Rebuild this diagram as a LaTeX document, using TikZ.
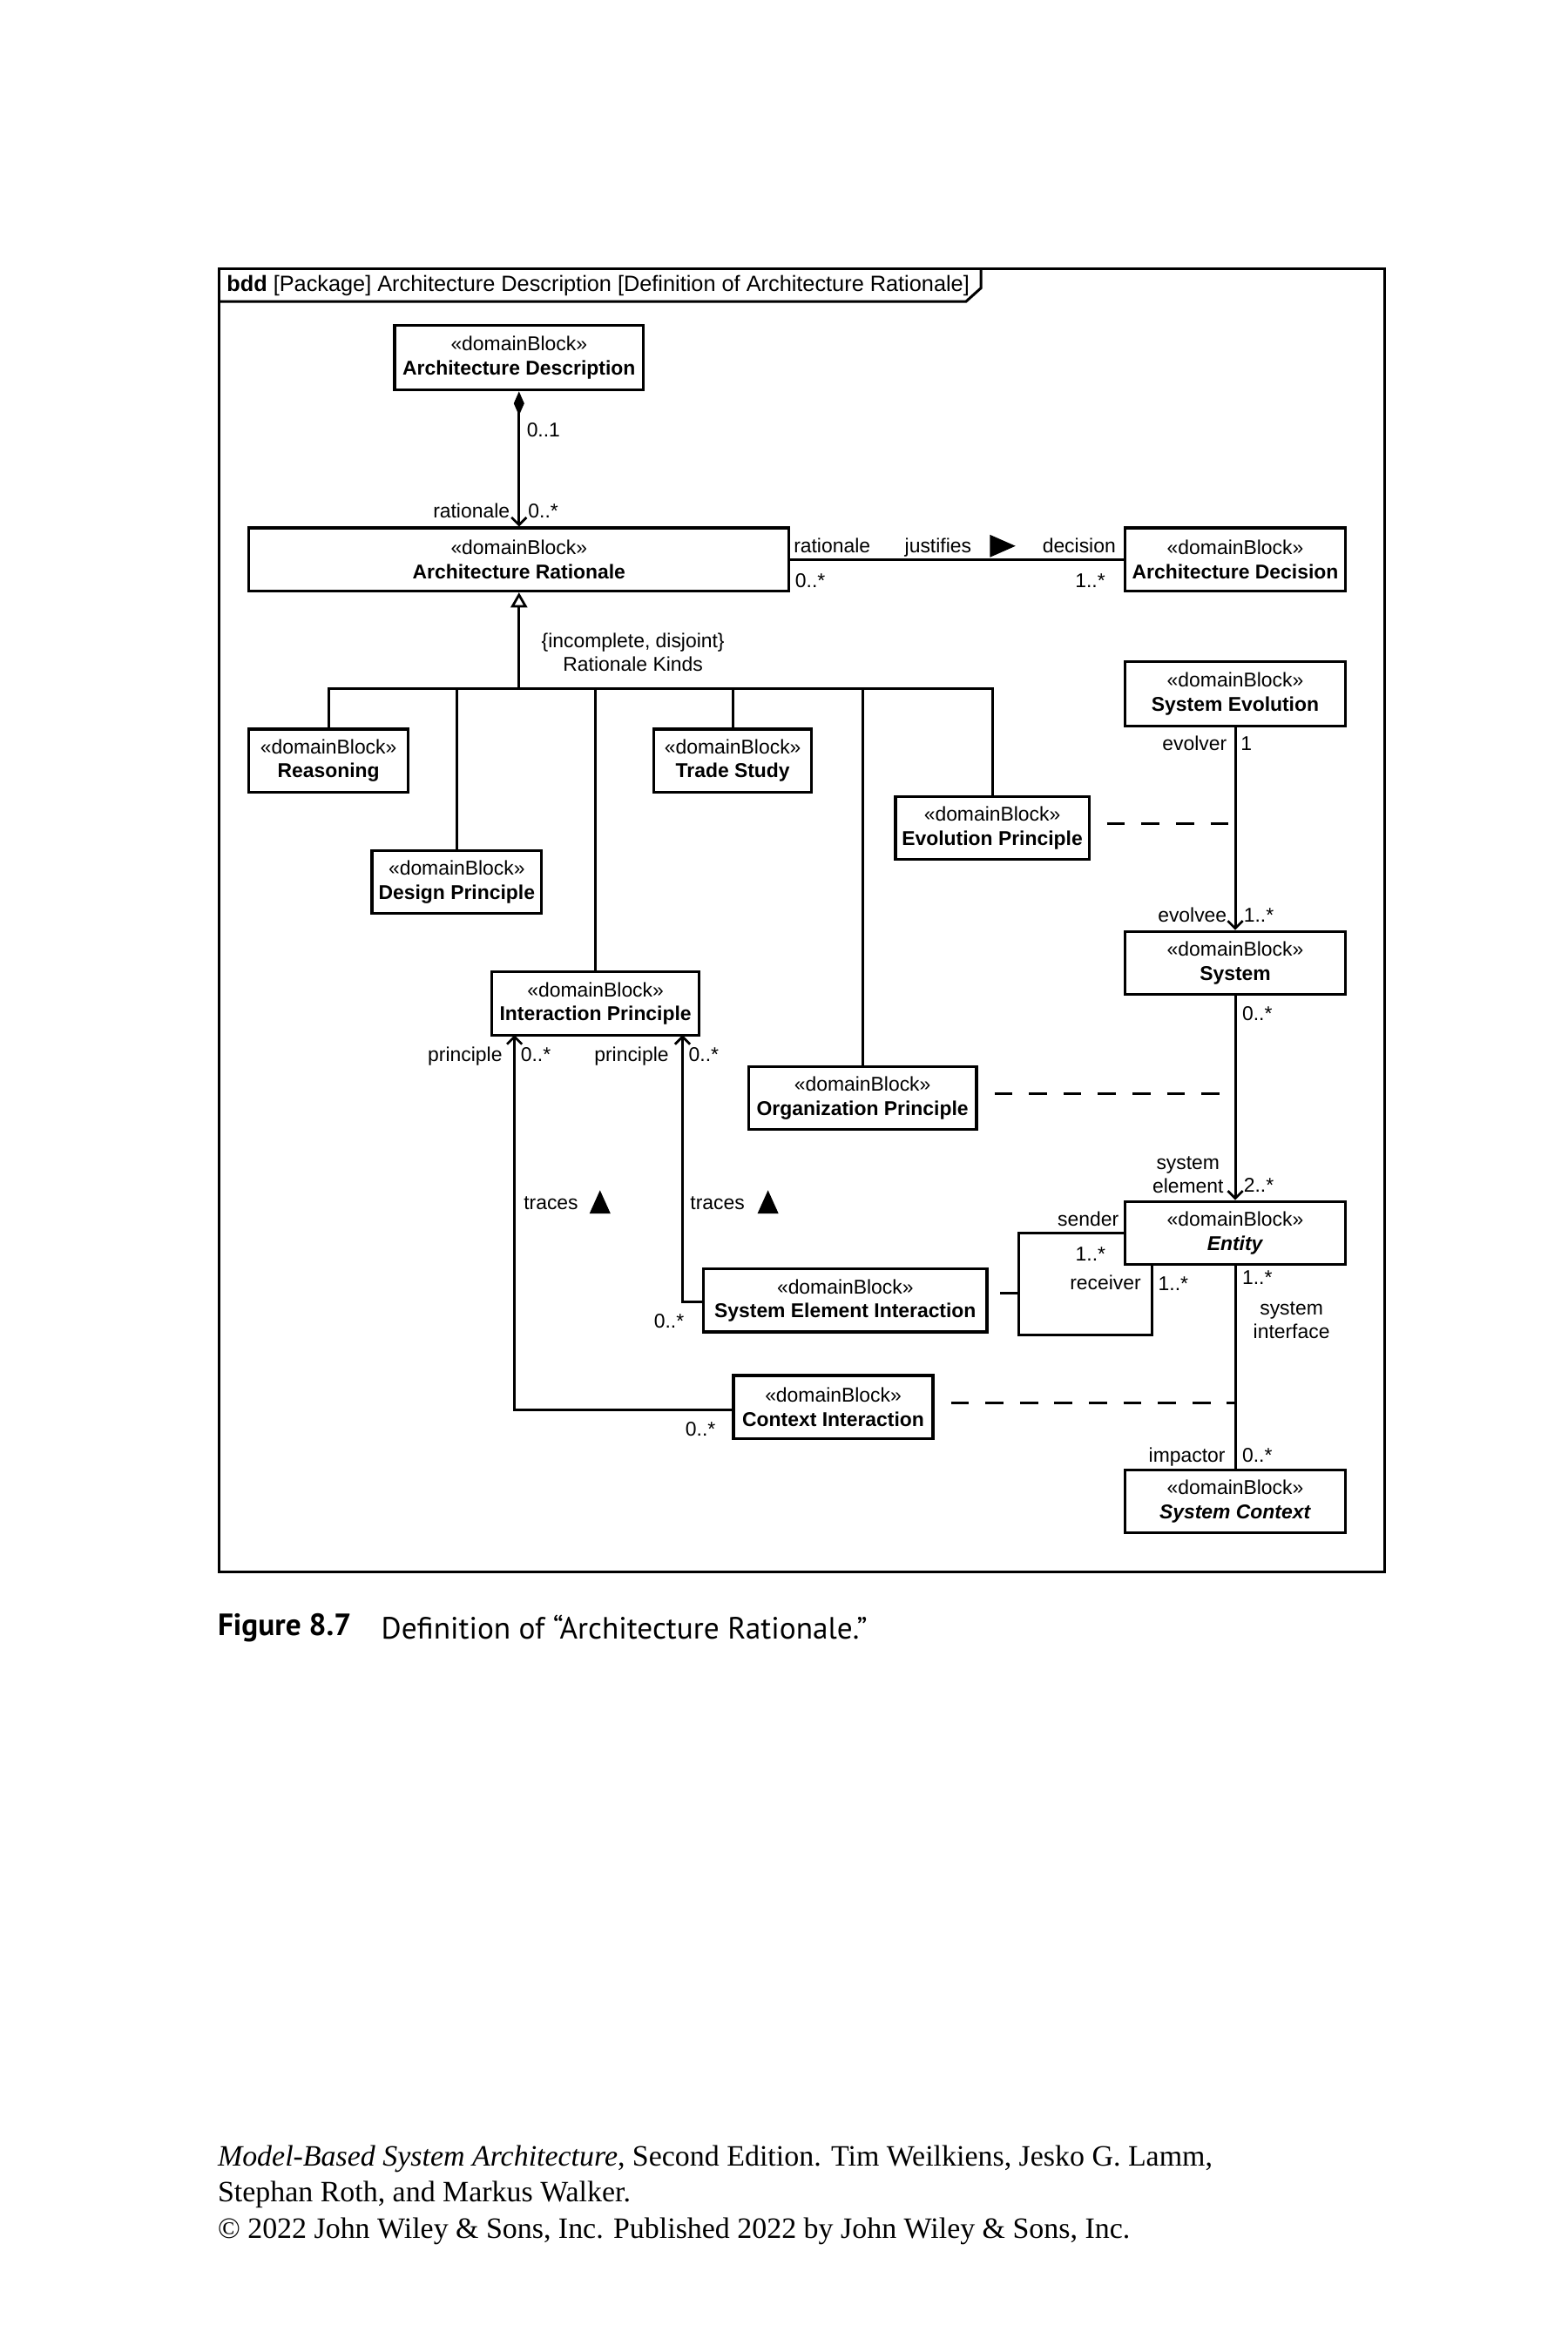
\documentclass[tikz,border=0pt]{standalone}
\usepackage{fontspec}
\setmainfont{Liberation Sans}
\newfontfamily\capfont{PT Sans}
\newfontfamily\footfont{Liberation Serif}
\usetikzlibrary{arrows.meta}
\tikzset{
  blk/.style={draw, line width=1.9pt, inner sep=0pt, align=center, font=\fontsize{13.3}{16}\selectfont},
  wide/.style={minimum width=147pt, minimum height=42pt},
  lbl/.style={inner sep=0pt, yshift=-1pt, font=\fontsize{13.3}{16}\selectfont, text height=9.6pt, text depth=2.6pt},
  conn/.style={line width=1.75pt},
  barb/.style={-{Straight Barb[length=5pt,width=10pt,line width=1.6pt]}},
  dsh/.style={line width=1.75pt, dash pattern=on 12pt off 11pt, dash phase=12pt},
  dirmark/.style={fill=black}
}
\begin{document}
\begin{tikzpicture}[x=1pt,y=-1pt]
\fill[white] (0,0) rectangle (1045,1568);
\useasboundingbox (0,0) rectangle (1045,1568);

% frame
\draw[line width=1.9pt] (146,179) rectangle (923,1048);
\draw[line width=1.75pt] (146,201) -- (644,201) -- (654,192) -- (654,179);
\node[anchor=west, inner sep=0pt, font=\fontsize{14.7}{17}\selectfont] (hdr) at (151,190.5)
  {\textbf{bdd} [Package] Architecture Description [Definition of Architecture Rationale]};

% blocks
\node[blk, minimum width=166pt, minimum height=43pt] (AD) at (346,238.5) {«domainBlock»\\\textbf{Architecture Description}};
\node[blk, minimum width=360pt, minimum height=42pt] (AR) at (346,373) {«domainBlock»\\\textbf{Architecture Rationale}};
\node[blk, wide] (ADec) at (823.5,373) {«domainBlock»\\\textbf{Architecture Decision}};
\node[blk, wide, minimum height=43pt] (SE) at (823.5,462.5) {«domainBlock»\\\textbf{System Evolution}};
\node[blk, minimum width=106pt, minimum height=42pt] (RS) at (219,507) {«domainBlock»\\\textbf{Reasoning}};
\node[blk, minimum width=105pt, minimum height=42pt] (TS) at (488.5,507) {«domainBlock»\\\textbf{Trade Study}};
\node[blk, minimum width=129pt, minimum height=42pt] (EP) at (661.5,552) {«domainBlock»\\\textbf{Evolution Principle}};
\node[blk, minimum width=113pt, minimum height=42pt] (DP) at (304.5,588) {«domainBlock»\\\textbf{Design Principle}};
\node[blk, minimum width=138pt, minimum height=42pt] (IP) at (397,669) {«domainBlock»\\\textbf{Interaction Principle}};
\node[blk, wide] (SYS) at (823.5,642) {«domainBlock»\\\textbf{System}};
\node[blk, minimum width=152pt, minimum height=42pt] (OP) at (575,732) {«domainBlock»\\\textbf{Organization Principle}};
\node[blk, wide] (EN) at (823.5,822) {«domainBlock»\\\textbf{\textit{Entity}}};
\node[blk, minimum width=189pt, minimum height=42pt] (SEI) at (563.5,867) {«domainBlock»\\\textbf{System Element Interaction}};
\node[blk, minimum width=133pt, minimum height=42pt] (CI) at (555.5,938) {«domainBlock»\\\textbf{Context Interaction}};
\node[blk, wide] (SC) at (823.5,1001) {«domainBlock»\\\textbf{\textit{System Context}}};

% composition
\draw[conn, {Diamond[length=16pt,width=7pt]}-{Straight Barb[length=5pt,width=10pt,line width=1.6pt]}] (AD.south) -- (AR.north);
\node[lbl, anchor=west] (l01) at (351,287) {0..1};
\node[lbl, anchor=east] (lrat) at (340,341) {rationale};
\node[lbl, anchor=west] (lrat0) at (352,341) {0..*};

% justifies
\draw[conn] (AR.east) -- (ADec.west);
\node[lbl, anchor=west] (lrat2) at (529,364) {rationale};
\node[lbl, anchor=west] (ljust) at (603,364) {justifies};
\fill[dirmark] (660,356.5) -- (677,364) -- (660,371.5) -- cycle;
\node[lbl, anchor=east] (ldec) at (744,364) {decision};
\node[lbl, anchor=west] (lrat2m) at (530,387) {0..*};
\node[lbl, anchor=east] (ldecm) at (737,387) {1..*};

% generalization set
\coordinate (bus) at (346,459);
\draw[conn, -{Triangle[open,length=10pt,width=11pt,line width=1.6pt]}] (bus) -- (AR.south);
\draw[conn] (RS.north) |- (EP.north |- bus) -- (EP.north);
\foreach \n in {DP,IP,TS,OP} \draw[conn] (\n.north) -- (\n.north |- bus);
\node[lbl, anchor=center] (lgs1) at (422,427) {\{incomplete, disjoint\}};
\node[lbl, anchor=center] (lgs2) at (422,443) {Rationale Kinds};

% system evolution -> system
\draw[conn, barb] (SE.south) -- (SYS.north);
\node[lbl, anchor=east] (levr) at (818,496) {evolver};
\node[lbl, anchor=west] (levrm) at (827,496) {1};
\node[lbl, anchor=east] (levee) at (818,610) {evolvee};
\node[lbl, anchor=west] (leveem) at (829,610) {1..*};

% system -> entity
\draw[conn, barb] (SYS.south) -- (EN.north);
\node[lbl, anchor=west] (lsysm) at (828,676) {0..*};
\node[lbl, anchor=center] (lse1) at (792,775) {system};
\node[lbl, anchor=center] (lse2) at (792,791) {element};
\node[lbl, anchor=west] (lsem) at (829,790) {2..*};

% entity -- system context
\draw[conn] (EN.south) -- (SC.north);
\node[lbl, anchor=west] (lenm) at (828,852) {1..*};
\node[lbl, anchor=center] (lsi1) at (861,872) {system};
\node[lbl, anchor=center] (lsi2) at (861,888) {interface};
\node[lbl, anchor=east] (limp) at (817,970) {impactor};
\node[lbl, anchor=west] (limpm) at (828,970) {0..*};

% association classes (dashed)
\draw[dsh] ([yshift=3pt]EP.east) -- ([yshift=3pt]EP.east -| SE.south);
\draw[dsh] ([yshift=3pt]OP.east) -- ([yshift=3pt]OP.east -| SE.south);
\draw[dsh] ([yshift=3pt]CI.east) -- ([yshift=3pt]CI.east -| SE.south);

% reflexive entity association
\coordinate (lpL) at (679,890);
\coordinate (lpR) at (768,890);
\coordinate (seiL) at (679,862);
\draw[conn] (EN.west) -| (lpL) -- (lpR) -- (lpR |- EN.south);
\node[lbl, anchor=east] (lsnd) at (746,813) {sender};
\node[lbl, anchor=center] (lsndm) at (727,836) {1..*};
\node[lbl, anchor=center] (lrcv) at (737,855) {receiver};
\node[lbl, anchor=west] (lrcvm) at (772,856) {1..*};
\draw[conn, dash pattern=on 13pt off 8pt, dash phase=13pt] (SEI.east |- seiL) -- (seiL);

% traces
\coordinate (ipR) at (455,690);
\coordinate (ipL) at (343,690);
\draw[conn, barb] ([yshift=-1pt]SEI.west) -| (ipR);
\draw[conn, barb] ([yshift=-2pt]CI.west) -| (ipL);
\node[lbl, anchor=east] (lpr1) at (335,703) {principle};
\node[lbl, anchor=west] (lpr1m) at (347,703) {0..*};
\node[lbl, anchor=east] (lpr2) at (446,703) {principle};
\node[lbl, anchor=west] (lpr2m) at (459,703) {0..*};
\node[lbl, anchor=west] (ltr1) at (349,802) {traces};
\fill[dirmark] (393,809) -- (400,793.5) -- (407,809) -- cycle;
\node[lbl, anchor=west] (ltr2) at (460,802) {traces};
\fill[dirmark] (505,809) -- (512,793.5) -- (519,809) -- cycle;
\node[lbl, anchor=center] (lsei) at (446,881) {0..*};
\node[lbl, anchor=center] (lci) at (467,953) {0..*};

% caption
\node[anchor=west, inner sep=0pt, font=\capfont\bfseries\fontsize{20.5}{24}\selectfont] (figlbl) at (145,1085) {Figure 8.7};
\node[anchor=west, inner sep=0pt, font=\capfont\fontsize{20.5}{24}\selectfont] (figcap) at (254,1085) {Definition of “Architecture Rationale.”};

% footer
\node[anchor=base west, inner sep=0pt, font=\footfont\fontsize{19.7}{24}\selectfont] (f1) at (145,1444)
  {\textit{Model-Based System Architecture}, Second Edition. Tim Weilkiens, Jesko G. Lamm,};
\node[anchor=base west, inner sep=0pt, font=\footfont\fontsize{19.7}{24}\selectfont] (f2) at (145,1468)
  {Stephan Roth, and Markus Walker.};
\node[anchor=base west, inner sep=0pt, font=\footfont\fontsize{19.7}{24}\selectfont] (f3) at (145,1492)
  {© 2022 John Wiley \& Sons, Inc. Published 2022 by John Wiley \& Sons, Inc.};
\end{tikzpicture}
\end{document}
